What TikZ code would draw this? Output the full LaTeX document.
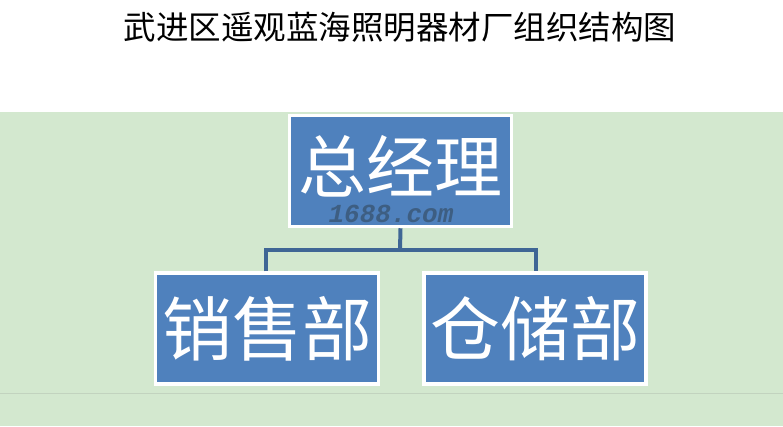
\documentclass[tikz,border=0pt]{standalone}
\usepackage{fontspec}
\newfontfamily\cjk{Noto Sans CJK SC}
\newfontfamily\wm{Liberation Mono}
\definecolor{bgg}{HTML}{D3E8CF}
\definecolor{boxb}{HTML}{4F81BD}
\definecolor{linkb}{HTML}{3F6695}
\definecolor{wmc}{HTML}{3B5878}
\begin{document}
\begin{tikzpicture}[x=1pt,y=-1pt,
  orgbox/.style={draw=white,line width=3.5pt,fill=boxb,text=white,inner sep=0pt,
    font=\cjk\fontsize{70}{76}\selectfont},
  link/.style={draw=linkb,line width=4pt}]
\useasboundingbox (0,0) rectangle (783,426);
\fill[white] (0,0) rectangle (783,112);
\fill[bgg] (0,112) rectangle (783,426);
\draw[bgg!80!gray,line width=0.8pt] (0,393) -- (783,393);
\node[font=\cjk\fontsize{32.5}{36}\selectfont] (title) at (400,27) {武进区遥观蓝海照明器材厂组织结构图};
\node[orgbox,minimum width=222pt,minimum height=111pt] (gm) at (400.5,171) {};
\node[text=white,font=\cjk\fontsize{68}{72}\selectfont] (gmt) at (400,166) {总经理};
\node[text=wmc,opacity=0.85,font=\wm\itshape\bfseries\fontsize{26}{28}\selectfont] (wmk) at (391,214) {1688.com};
\node[orgbox,minimum width=223pt,minimum height=111pt] (sales) at (267,328.5) {销售部};
\node[orgbox,minimum width=222pt,minimum height=111pt] (store) at (535,328.5) {仓储部};
\coordinate (j) at (400,250);
\draw[link] (gm.south) -- (j);
\draw[link] (sales.north -| 266,0) |- (j) -| (store.north -| 536,0);
\end{tikzpicture}
\end{document}
